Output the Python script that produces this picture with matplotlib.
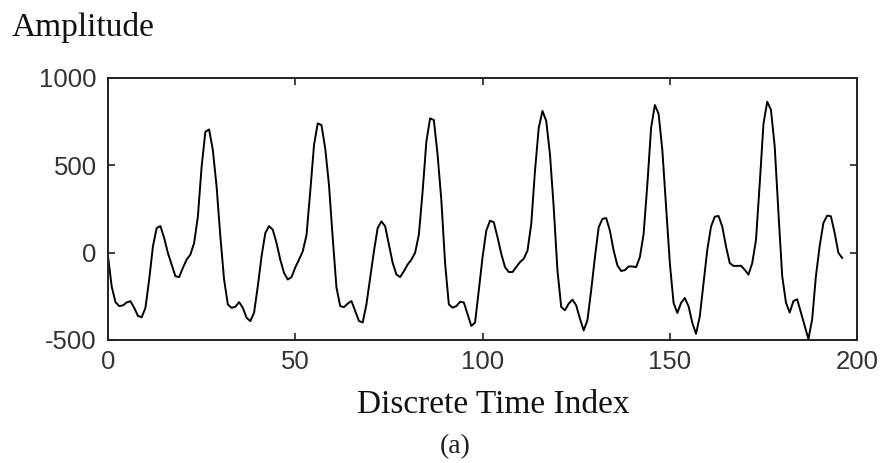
import numpy as np
import matplotlib
matplotlib.use("Agg")
import matplotlib.pyplot as plt

plt.rcParams["axes.unicode_minus"] = False

# signal samples (index 0..196)
amplitude = [
    -20, -195, -283, -306, -302, -285, -278, -316, -362, -370,
    -316, -154, 36, 141, 152, 84, -2, -68, -135, -140,
    -87, -40, -11, 55, 207, 492, 692, 705, 587, 378,
    93, -154, -297, -316, -310, -283, -316, -373, -392, -344,
    -192, -21, 112, 152, 131, 55, -40, -116, -154, -140,
    -85, -40, 8, 100, 350, 615, 740, 730, 597, 388,
    84, -200, -306, -312, -292, -277, -334, -391, -400, -296,
    -144, 8, 141, 179, 151, 46, -58, -125, -140, -106,
    -68, -40, 0, 103, 350, 635, 769, 759, 560, 300,
    -60, -296, -315, -306, -281, -285, -352, -420, -400, -216,
    -26, 126, 183, 174, 88, -7, -83, -111, -111, -83,
    -54, -35, 12, 164, 468, 715, 811, 754, 563, 259,
    -102, -311, -330, -292, -269, -302, -378, -445, -387, -216,
    -26, 145, 193, 198, 126, 12, -73, -105, -100, -79,
    -79, -83, -26, 107, 392, 715, 845, 795, 586, 263,
    -60, -288, -345, -288, -260, -307, -402, -465, -364, -174,
    16, 149, 206, 210, 149, 35, -60, -76, -76, -75,
    -98, -126, -60, 73, 396, 738, 864, 817, 607, 227,
    -134, -286, -343, -277, -267, -343, -419, -495, -381, -134,
    37, 170, 212, 208, 113, -1, -30,
]
time_index = np.arange(len(amplitude))

x_ticks = [0, 50, 100, 150, 200]
y_ticks = [-500, 0, 500, 1000]

fig = plt.figure(figsize=(8.8, 4.63), dpi=100)
ax = fig.add_axes([0.1227, 0.2657, 0.8513, 0.5659])

ax.plot(time_index, amplitude, color="black", linewidth=1.4)

ax.set_xlim(0, 200)
ax.set_ylim(-500, 1000)
ax.set_xticks(x_ticks)
ax.set_yticks(y_ticks)

for side in ax.spines.values():
    side.set_linewidth(1.4)
    side.set_color("#222222")

ax.tick_params(direction="in", length=5, width=1.2, top=True, right=True,
               labelsize=18.5, colors="#222222")
ax.tick_params(axis="y", pad=8)
ax.tick_params(axis="x", pad=7)
for lbl in ax.get_xticklabels() + ax.get_yticklabels():
    lbl.set_family("Liberation Sans")
    lbl.set_color("#333333")

serif = "Liberation Serif"
fig.text(12 / 880, 1 - 36 / 463, "Amplitude", family=serif, fontsize=24,
         ha="left", va="baseline", color="#111111")
fig.text(493 / 880, 1 - 413 / 463, "Discrete Time Index", family=serif,
         fontsize=24, ha="center", va="baseline", color="#111111")
fig.text(455 / 880, 1 - 453 / 463, "(a)", family=serif, fontsize=20,
         ha="center", va="baseline", color="#222222")

fig.savefig("out.png", dpi=100)
